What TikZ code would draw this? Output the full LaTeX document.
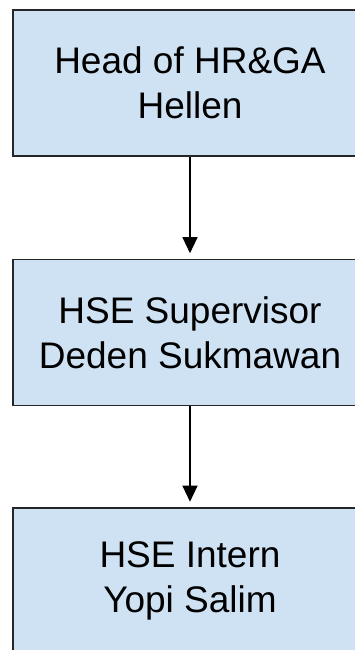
\documentclass[tikz,border=0pt]{standalone}
\usepackage{fontspec}
\setmainfont{Liberation Sans}
\usetikzlibrary{arrows.meta}
\definecolor{boxfill}{HTML}{CFE2F3}
\definecolor{boxline}{HTML}{262626}
\begin{document}
\begin{tikzpicture}[x=1pt,y=1pt,
  orgbox/.style={draw=boxline, line width=1.6pt, fill=boxfill,
    minimum width=354pt, minimum height=146pt, align=center,
    inner sep=0pt, font=\fontsize{37}{45}\selectfont},
  link/.style={line width=1.3pt, -{Triangle[length=16pt,width=15pt]},
    shorten >=5.5pt}]
  \useasboundingbox (0,0) rectangle (354,-650);
  \fill[white] (0,0) rectangle (354,-650);
  \node[orgbox] (head) at (190,-83) {Head of HR\&GA\\Hellen};
  \node[orgbox] (sup) at (190,-332.5) {HSE Supervisor\\Deden Sukmawan};
  \node[orgbox] (intern) at (190,-581) {HSE Intern\\Yopi Salim};
  \draw[link] (head.south) -- (sup.north);
  \draw[link] (sup.south) -- (intern.north);
\end{tikzpicture}
\end{document}
